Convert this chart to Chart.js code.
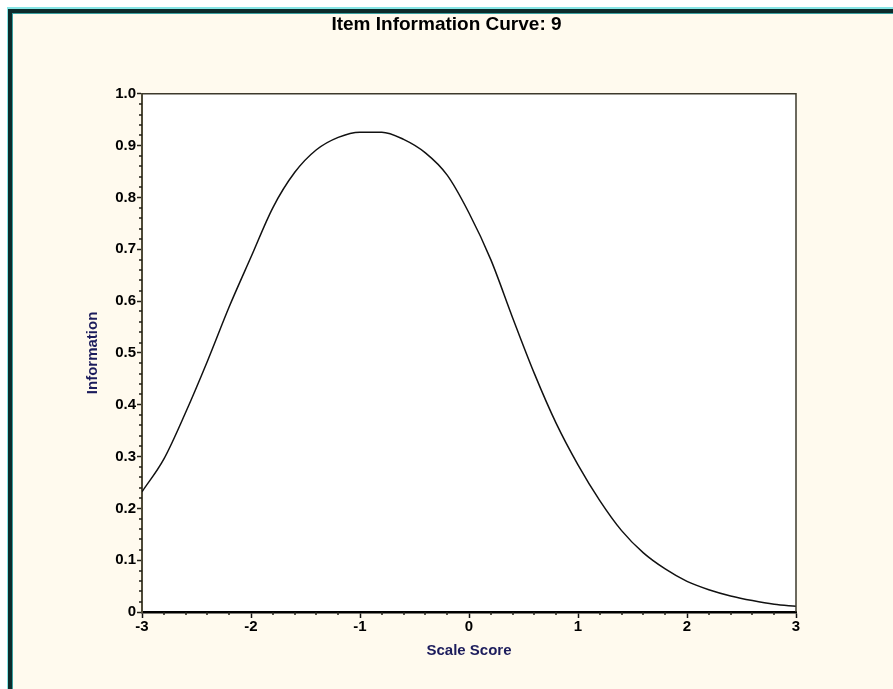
<!DOCTYPE html>
<html>
<head>
<meta charset="utf-8">
<script src="https://cdn.jsdelivr.net/npm/chart.js@4"></script>
<style>
    html, body { margin: 0; padding: 0; background: #ffffff; }
    canvas { display: block; }
</style>
</head>
<body>
<canvas id="infoChart" width="893" height="689"></canvas>
<script>
const scoreValues = [-3.0, -2.8, -2.6, -2.4, -2.2, -2.0, -1.8, -1.6, -1.4, -1.2, -1.0,
    -0.8, -0.6, -0.4, -0.2, 0.0, 0.2, 0.4, 0.6, 0.8, 1.0,
    1.2, 1.4, 1.6, 1.8, 2.0, 2.2, 2.4, 2.6, 2.8, 3.0];
const informationValues = [0.232, 0.295, 0.385, 0.484, 0.589, 0.685, 0.78, 0.848, 0.892, 0.916, 0.926,
    0.926, 0.912, 0.886, 0.843, 0.77, 0.68, 0.568, 0.46, 0.364, 0.284,
    0.215, 0.157, 0.114, 0.083, 0.059, 0.043, 0.031, 0.022, 0.015, 0.011];
const xTickLabels = ['-3', '-2', '-1', '0', '1', '2', '3'];
const yTickLabels = ['0', '0.1', '0.2', '0.3', '0.4', '0.5', '0.6', '0.7', '0.8', '0.9', '1.0'];

const labelColor = '#1c1c5c';
const tickFont = { family: 'Liberation Sans, Arial, sans-serif', size: 15, weight: 'bold' };

// frame, beige background, white plot area
const backgroundPlugin = {
    id: 'backgroundPlugin',
    beforeDraw(chart) {
        const ctx = chart.ctx;
        const area = chart.chartArea;
        ctx.save();
        ctx.fillStyle = '#ffffff';
        ctx.fillRect(0, 0, chart.width, chart.height);
        ctx.fillStyle = '#86e6e6';
        ctx.fillRect(7, 7, chart.width - 7, chart.height - 7);
        ctx.fillStyle = '#0c2b2b';
        ctx.fillRect(8, 9, chart.width - 8, chart.height - 9);
        ctx.fillStyle = '#3aa0a0';
        ctx.fillRect(12, 13, chart.width - 12, chart.height - 13);
        ctx.fillStyle = '#fffaee';
        ctx.fillRect(13, 14, chart.width - 13, chart.height - 14);
        ctx.fillStyle = '#ffffff';
        ctx.fillRect(area.left, area.top, area.right - area.left, area.bottom - area.top);
        ctx.restore();
    },
    afterDraw(chart) {
        const ctx = chart.ctx;
        const area = chart.chartArea;
        const xScale = chart.scales.x;
        const yScale = chart.scales.y;
        ctx.save();
        // top and right border
        ctx.strokeStyle = '#3d3a2c';
        ctx.lineWidth = 1.5;
        ctx.beginPath();
        ctx.moveTo(area.left, area.top);
        ctx.lineTo(area.right, area.top);
        ctx.lineTo(area.right, area.bottom);
        ctx.stroke();
        // minor ticks
        ctx.strokeStyle = '#222018';
        ctx.lineWidth = 1.5;
        ctx.beginPath();
        for (let i = 0; i <= 30; i++) {
            if (i % 5 === 0) continue;
            const px = Math.round(xScale.getPixelForValue(-3 + i * 0.2));
            ctx.moveTo(px, area.bottom);
            ctx.lineTo(px, area.bottom + 3);
        }
        for (let i = 0; i <= 50; i++) {
            if (i % 5 === 0) continue;
            const py = Math.round(yScale.getPixelForValue(i * 0.02));
            ctx.moveTo(area.left - 3, py);
            ctx.lineTo(area.left, py);
        }
        ctx.stroke();
        ctx.restore();
    }
};

const ctx = document.getElementById('infoChart').getContext('2d');
const infoChart = new Chart(ctx, {
    type: 'line',
    data: {
        datasets: [
            {
                label: 'Information',
                data: scoreValues.map((s, i) => ({ x: s, y: informationValues[i] })),
                borderColor: '#111111',
                borderWidth: 1.5,
                pointRadius: 0,
                fill: false,
                cubicInterpolationMode: 'monotone'
            }
        ]
    },
    options: {
        responsive: false,
        animation: false,
        devicePixelRatio: 1,
        layout: { padding: 0 },
        plugins: {
            legend: { display: false },
            tooltip: { enabled: false },
            title: {
                display: true,
                text: 'Item Information Curve: 9',
                color: '#000000',
                font: { family: 'Liberation Sans, Arial, sans-serif', size: 19, weight: 'bold' },
                padding: { top: 13, bottom: 58 }
            }
        },
        scales: {
            x: {
                type: 'linear',
                min: -3,
                max: 3,
                afterFit(scale) { scale.height = 77; },
                ticks: {
                    stepSize: 1,
                    color: '#000000',
                    font: tickFont,
                    padding: 0,
                    maxRotation: 0,
                    callback: function (value) {
                        const idx = Math.round(value + 3);
                        return xTickLabels[idx];
                    }
                },
                grid: {
                    drawOnChartArea: false,
                    tickLength: 6,
                    tickColor: '#111111',
                    tickWidth: 1.5
                },
                border: { color: '#000000', width: 2.5 },
                title: {
                    display: true,
                    text: 'Scale Score',
                    color: labelColor,
                    font: { family: 'Liberation Sans, Arial, sans-serif', size: 15, weight: 'bold' },
                    padding: { top: 0, bottom: 29 }
                }
            },
            y: {
                min: 0,
                max: 1,
                afterFit(scale) { scale.width = 142; },
                ticks: {
                    stepSize: 0.1,
                    color: '#000000',
                    font: tickFont,
                    padding: 1,
                    callback: function (value) {
                        const idx = Math.round(value * 10);
                        return yTickLabels[idx];
                    }
                },
                grid: {
                    drawOnChartArea: false,
                    tickLength: 5,
                    tickColor: '#222018',
                    tickWidth: 1.5
                },
                border: { color: '#4e4a38', width: 2 },
                title: {
                    display: true,
                    text: 'Information',
                    color: labelColor,
                    font: { family: 'Liberation Sans, Arial, sans-serif', size: 15, weight: 'bold' },
                    padding: { top: 84, bottom: 0 }
                }
            },
            yRight: {
                position: 'right',
                display: true,
                afterFit(scale) { scale.width = 97; },
                ticks: { display: false },
                grid: { display: false },
                border: { display: false }
            }
        }
    },
    plugins: [backgroundPlugin]
});
</script>
</body>
</html>
